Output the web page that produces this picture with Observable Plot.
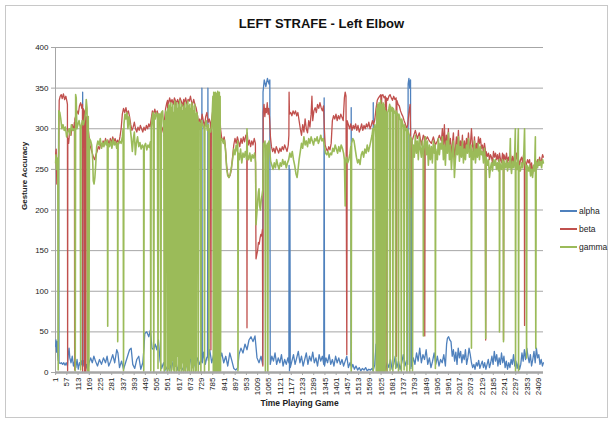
<!DOCTYPE html>
<html><head><meta charset="utf-8">
<script src="https://cdn.jsdelivr.net/npm/d3@7"></script>
<script src="https://cdn.jsdelivr.net/npm/@observablehq/plot@0.6"></script>
<style>
body{margin:0;background:#fff;font-family:"Liberation Sans",Arial,sans-serif;}
#wrap{position:relative;width:613px;height:423px;overflow:hidden;}
#frame{position:absolute;left:5px;top:5px;width:601px;height:411px;border:1px solid #c8c8c8;}
#title{position:absolute;left:0;width:613px;top:16px;text-align:center;padding-left:30px;box-sizing:border-box;font-weight:bold;font-size:13px;color:#111;}
#chart{position:absolute;left:0;top:0;}
.leg{position:absolute;left:560px;font-size:8.5px;color:#222;display:flex;align-items:center;}
.leg span.l{display:inline-block;width:17px;height:1.5px;margin-right:2px;}
</style></head>
<body>
<div id="wrap">
<div id="frame"></div>
<div id="chart"></div>
<div id="title">LEFT STRAFE - Left Elbow</div>
<div id="legend"></div>
</div>
<script>
const seriesNames = ["alpha", "beta", "gamma"];
const seriesColors = ["#4F81BD", "#C0504D", "#9BBB59"];
const yTicks = [0, 50, 100, 150, 200, 250, 300, 350, 400];
const xTickLabels = [1,57,113,169,225,281,337,393,449,505,561,617,673,729,785,841,897,953,1009,1065,1121,1177,1233,1289,1345,1401,1457,1513,1569,1625,1681,1737,1793,1849,1905,1961,2017,2073,2129,2185,2241,2297,2353,2409];
const pointCount = 2435;

const alpha = [[1,32],[3,40],[6,25],[9,38],[12,20],[14,15],[16,300],[18,12],[24,11],[30,12],[36,10],[42,12],[48,9],[54,12],[60,8],[64,22],[68,30],[72,18],[78,12],[84,20],[90,8],[96,14],[102,6],[108,16],[114,4],[120,12],[126,8],[132,15],[134,10],[136,345],[138,8],[144,15],[150,4],[156,10],[162,2],[168,12],[176,18],[184,12],[192,20],[200,14],[210,8],[220,16],[230,10],[240,18],[250,12],[258,20],[266,8],[276,14],[286,22],[296,12],[306,28],[312,24],[320,6],[330,14],[340,4],[350,12],[360,20],[370,28],[378,30],[386,10],[396,5],[406,16],[416,20],[426,4],[436,12],[442,30],[446,48],[456,50],[466,44],[474,52],[482,30],[490,28],[498,35],[506,28],[514,40],[522,15],[530,5],[540,12],[550,3],[560,8],[570,2],[580,15],[590,4],[600,10],[610,3],[620,18],[630,6],[640,2],[650,12],[660,4],[670,20],[680,8],[690,14],[700,5],[710,18],[720,10],[729,15],[731,350],[733,12],[740,25],[748,10],[755,18],[759,20],[761,350],[763,15],[770,28],[780,12],[790,22],[800,8],[810,30],[820,16],[830,24],[840,12],[850,20],[860,8],[870,24],[880,15],[890,5],[900,3],[910,6],[916,22],[926,30],[936,24],[946,35],[956,28],[966,40],[976,44],[986,38],[996,45],[1006,18],[1016,12],[1026,20],[1034,10],[1036,345],[1042,360],[1050,352],[1058,362],[1066,355],[1070,360],[1072,10],[1080,20],[1088,14],[1096,24],[1104,10],[1112,18],[1120,12],[1128,22],[1136,8],[1144,16],[1152,10],[1160,18],[1165,12],[1166,255],[1168,2],[1170,250],[1172,6],[1180,14],[1188,22],[1196,10],[1204,18],[1212,26],[1220,12],[1228,20],[1236,8],[1244,16],[1252,24],[1260,10],[1268,20],[1276,14],[1284,25],[1292,12],[1300,18],[1308,8],[1316,22],[1324,14],[1332,20],[1339,10],[1341,338],[1343,8],[1350,18],[1358,12],[1366,22],[1374,10],[1382,16],[1390,8],[1398,20],[1406,12],[1414,18],[1422,10],[1430,16],[1438,8],[1446,14],[1454,20],[1462,6],[1470,12],[1475,8],[1476,326],[1477,5],[1484,10],[1492,4],[1500,8],[1508,3],[1516,6],[1524,2],[1532,5],[1540,3],[1548,6],[1556,2],[1564,4],[1572,3],[1580,5],[1585,2],[1586,332],[1587,4],[1594,10],[1600,35],[1606,8],[1612,40],[1618,12],[1624,32],[1630,6],[1636,28],[1642,10],[1648,4],[1656,12],[1664,6],[1672,16],[1680,4],[1688,10],[1696,20],[1704,6],[1712,14],[1720,4],[1728,12],[1736,22],[1744,8],[1752,15],[1758,10],[1760,355],[1764,362],[1768,350],[1772,360],[1774,5],[1776,252],[1778,8],[1786,18],[1794,10],[1802,24],[1810,14],[1818,30],[1826,12],[1834,22],[1842,16],[1850,28],[1858,10],[1866,18],[1874,6],[1882,14],[1890,24],[1898,10],[1906,20],[1914,8],[1922,16],[1930,12],[1938,22],[1946,8],[1952,35],[1956,42],[1962,44],[1968,40],[1974,38],[1980,20],[1986,28],[1992,14],[1998,25],[2004,10],[2010,30],[2016,18],[2022,26],[2028,12],[2034,22],[2040,16],[2046,28],[2052,10],[2058,18],[2064,30],[2070,22],[2076,12],[2082,6],[2088,10],[2094,4],[2100,12],[2106,8],[2112,15],[2118,5],[2124,10],[2130,14],[2136,6],[2142,12],[2148,4],[2154,10],[2160,16],[2166,6],[2172,12],[2178,20],[2184,10],[2190,26],[2196,14],[2202,22],[2208,8],[2214,18],[2220,10],[2226,24],[2232,12],[2238,20],[2244,6],[2250,14],[2256,4],[2262,12],[2268,6],[2274,16],[2280,10],[2286,22],[2292,8],[2298,14],[2304,5],[2310,12],[2316,4],[2322,10],[2328,24],[2334,14],[2340,28],[2346,16],[2352,30],[2358,20],[2364,12],[2370,22],[2376,8],[2382,16],[2388,26],[2394,12],[2400,30],[2406,18],[2412,22],[2418,10],[2424,16],[2430,8],[2435,12]];

const beta = [[1,268],[4,275],[7,232],[10,262],[13,255],[16,270],[19,335],[24,340],[29,342],[34,337],[40,343],[46,336],[52,340],[58,333],[60,330],[61,2],[62,288],[66,282],[72,300],[78,292],[84,305],[90,298],[95,308],[96,3],[97,312],[102,316],[108,322],[114,318],[120,328],[126,332],[132,325],[135,330],[136,0],[138,325],[144,322],[146,0],[148,318],[151,322],[152,0],[154,315],[160,308],[166,295],[172,280],[178,275],[184,270],[190,265],[196,262],[202,268],[208,272],[214,278],[220,275],[226,282],[232,278],[238,285],[244,280],[250,288],[256,282],[262,286],[268,280],[274,288],[280,282],[286,290],[292,284],[298,288],[304,282],[310,286],[316,282],[322,290],[328,300],[334,318],[340,325],[346,320],[352,326],[358,318],[364,322],[370,315],[376,305],[382,298],[388,302],[394,308],[400,300],[406,296],[412,302],[418,298],[424,304],[430,300],[436,296],[442,302],[448,298],[454,304],[460,300],[466,306],[472,302],[478,312],[484,322],[490,318],[496,324],[502,318],[508,322],[514,316],[520,305],[526,298],[532,302],[538,296],[544,310],[550,325],[556,332],[560,335],[562,5],[564,330],[570,338],[576,332],[582,336],[588,330],[594,338],[600,334],[602,8],[604,332],[610,336],[616,330],[622,338],[628,334],[634,328],[640,336],[642,3],[644,332],[650,338],[656,330],[662,336],[668,334],[674,340],[680,332],[682,10],[684,330],[690,336],[696,330],[702,326],[708,318],[714,308],[720,312],[726,305],[732,318],[738,310],[744,302],[750,315],[756,320],[762,308],[768,312],[774,305],[776,28],[778,308],[784,320],[790,335],[796,340],[802,338],[808,342],[810,50],[812,340],[818,336],[824,300],[830,288],[836,284],[842,290],[848,278],[854,255],[860,244],[866,240],[872,243],[878,250],[884,265],[890,280],[896,288],[902,282],[908,290],[914,284],[920,278],[926,288],[932,282],[938,290],[944,284],[950,292],[955,288],[956,55],[957,295],[962,280],[968,286],[974,278],[980,285],[986,280],[992,288],[998,282],[1001,140],[1005,145],[1009,150],[1013,160],[1017,158],[1021,165],[1025,170],[1029,168],[1033,176],[1035,8],[1037,320],[1041,330],[1045,315],[1049,325],[1053,320],[1057,332],[1061,318],[1065,325],[1069,312],[1073,290],[1078,278],[1084,272],[1090,276],[1096,270],[1102,278],[1108,274],[1114,270],[1120,276],[1126,272],[1132,278],[1138,274],[1144,280],[1150,276],[1156,272],[1162,280],[1165,292],[1166,345],[1168,318],[1174,320],[1180,316],[1186,322],[1192,318],[1198,322],[1204,316],[1210,320],[1216,310],[1222,300],[1228,292],[1234,305],[1240,296],[1246,312],[1252,300],[1258,295],[1264,310],[1270,302],[1276,318],[1280,340],[1284,310],[1290,322],[1296,326],[1302,320],[1308,330],[1314,325],[1320,332],[1326,326],[1332,322],[1338,328],[1342,300],[1346,280],[1352,275],[1358,272],[1364,278],[1370,274],[1376,282],[1382,310],[1388,316],[1394,312],[1400,318],[1406,310],[1412,316],[1418,312],[1424,318],[1430,314],[1436,310],[1442,338],[1446,345],[1450,340],[1454,22],[1456,310],[1462,305],[1468,300],[1474,306],[1480,298],[1486,304],[1492,300],[1498,306],[1504,298],[1510,304],[1516,296],[1522,300],[1528,306],[1534,298],[1540,304],[1546,300],[1552,306],[1558,302],[1564,308],[1570,300],[1576,304],[1582,310],[1588,305],[1594,312],[1600,325],[1606,335],[1612,338],[1618,340],[1624,342],[1626,5],[1628,340],[1634,342],[1640,338],[1646,340],[1650,0],[1652,338],[1658,335],[1664,340],[1670,342],[1676,338],[1682,335],[1688,340],[1694,336],[1700,338],[1702,20],[1704,335],[1710,330],[1716,328],[1722,322],[1728,318],[1734,315],[1740,310],[1746,306],[1752,300],[1758,305],[1764,320],[1770,330],[1772,300],[1774,215],[1776,230],[1780,285],[1786,290],[1796,298],[1806,288],[1816,295],[1826,280],[1836,292],[1841,290],[1843,45],[1845,285],[1856,290],[1866,285],[1876,282],[1886,290],[1896,280],[1906,285],[1916,292],[1926,285],[1931,300],[1936,278],[1941,305],[1946,270],[1951,292],[1956,280],[1961,300],[1966,272],[1971,288],[1976,265],[1981,282],[1986,295],[1991,262],[1996,275],[2001,290],[2006,278],[2011,298],[2016,270],[2021,285],[2026,275],[2031,292],[2036,268],[2041,285],[2046,272],[2051,288],[2056,278],[2061,295],[2066,275],[2071,282],[2076,300],[2081,280],[2086,272],[2091,290],[2096,268],[2101,282],[2106,275],[2111,290],[2116,282],[2121,288],[2126,276],[2131,280],[2136,270],[2141,282],[2145,275],[2147,40],[2149,272],[2156,266],[2161,270],[2166,262],[2171,268],[2176,265],[2181,258],[2186,272],[2191,265],[2196,270],[2201,262],[2206,268],[2211,260],[2216,270],[2221,262],[2226,258],[2231,270],[2235,262],[2236,40],[2238,268],[2246,262],[2251,270],[2256,258],[2261,265],[2266,260],[2271,268],[2276,255],[2281,266],[2286,258],[2291,268],[2296,262],[2301,270],[2306,258],[2311,262],[2316,255],[2321,262],[2326,265],[2331,258],[2336,268],[2340,262],[2341,58],[2343,260],[2349,255],[2356,262],[2361,258],[2366,262],[2371,250],[2376,258],[2381,245],[2386,255],[2391,250],[2396,248],[2401,258],[2406,262],[2411,255],[2416,265],[2421,258],[2426,262],[2431,268],[2435,265]];

const gamma = [[1,258],[3,268],[6,250],[9,264],[12,255],[14,3],[17,322],[22,320],[27,312],[32,300],[38,305],[44,298],[50,302],[56,290],[62,296],[68,300],[74,292],[80,305],[86,298],[92,300],[97,296],[99,2],[101,342],[104,338],[107,300],[112,305],[118,310],[124,302],[126,3],[128,300],[134,310],[140,305],[146,312],[151,320],[154,336],[158,325],[161,2],[164,315],[167,1],[170,288],[176,285],[181,280],[186,262],[189,236],[193,232],[197,240],[201,255],[206,278],[212,285],[218,280],[224,288],[230,276],[236,283],[242,278],[248,285],[254,280],[259,286],[261,57],[263,282],[270,278],[276,285],[282,276],[288,287],[294,280],[300,284],[306,276],[310,282],[311,38],[313,280],[320,285],[328,282],[334,290],[338,300],[340,2],[342,305],[347,318],[352,312],[357,320],[362,300],[367,315],[372,305],[378,290],[384,272],[389,288],[394,296],[399,268],[404,282],[410,290],[416,278],[422,283],[428,275],[434,280],[440,276],[441,2],[443,278],[450,282],[456,274],[462,280],[468,277],[474,284],[476,2],[478,300],[483,315],[488,320],[491,0],[493,318],[498,312],[504,320],[509,315],[512,5],[515,318],[523,318],[526,2],[529,320],[535,322],[541,300],[543,0],[546,310],[548,4],[551,322],[556,318],[558,0],[561,325],[563,6],[566,330],[568,2],[571,328],[573,10],[576,332],[578,0],[581,326],[583,15],[586,330],[588,3],[591,320],[593,0],[596,334],[598,8],[601,328],[603,0],[606,332],[608,20],[611,325],[613,2],[616,330],[618,0],[621,335],[623,5],[626,326],[628,0],[631,330],[633,12],[636,322],[638,0],[641,328],[643,4],[646,332],[648,0],[651,325],[653,8],[656,330],[658,0],[661,334],[663,3],[666,328],[668,0],[671,330],[673,18],[676,325],[678,0],[681,332],[683,6],[686,328],[688,0],[691,322],[693,10],[696,330],[698,0],[701,318],[703,2],[706,320],[711,312],[713,0],[716,308],[724,305],[726,0],[728,310],[735,305],[742,300],[744,0],[746,302],[752,310],[758,298],[764,305],[766,2],[768,300],[775,296],[780,305],[786,340],[788,0],[790,345],[792,3],[794,342],[796,0],[798,345],[800,5],[802,340],[804,0],[806,344],[808,2],[810,346],[812,0],[814,342],[816,4],[818,345],[820,0],[822,340],[824,2],[826,285],[832,288],[838,282],[844,286],[850,270],[855,250],[860,242],[866,240],[872,244],[878,252],[884,262],[890,275],[896,268],[902,280],[908,272],[910,285],[911,2],[913,270],[918,262],[924,275],[930,258],[936,270],[942,265],[948,272],[954,262],[956,300],[958,268],[964,262],[970,270],[976,260],[982,268],[988,264],[994,270],[999,258],[1001,182],[1005,195],[1009,210],[1013,222],[1016,226],[1019,205],[1023,200],[1027,212],[1031,218],[1035,225],[1038,282],[1042,278],[1046,285],[1048,0],[1050,280],[1054,275],[1058,282],[1060,0],[1062,278],[1066,285],[1070,272],[1074,260],[1080,255],[1086,250],[1092,258],[1098,252],[1104,262],[1110,255],[1116,250],[1122,258],[1128,254],[1134,262],[1140,256],[1146,260],[1152,252],[1158,258],[1164,262],[1170,270],[1176,265],[1182,272],[1188,262],[1194,255],[1200,245],[1206,240],[1210,248],[1216,262],[1222,272],[1228,282],[1234,276],[1240,290],[1246,280],[1252,285],[1258,278],[1264,288],[1270,282],[1276,290],[1282,285],[1288,280],[1294,288],[1300,285],[1306,290],[1312,282],[1318,286],[1324,292],[1330,285],[1336,288],[1342,280],[1348,270],[1354,268],[1360,272],[1366,265],[1372,270],[1378,268],[1384,276],[1390,272],[1396,280],[1402,275],[1408,270],[1414,278],[1420,272],[1426,280],[1432,276],[1438,270],[1442,262],[1446,205],[1448,258],[1452,265],[1458,258],[1464,262],[1470,270],[1474,278],[1476,0],[1478,282],[1484,288],[1490,285],[1496,275],[1502,265],[1508,258],[1514,262],[1520,256],[1526,268],[1532,272],[1538,265],[1544,275],[1550,270],[1556,280],[1562,272],[1568,278],[1574,285],[1580,292],[1584,300],[1586,0],[1588,298],[1594,305],[1599,290],[1601,2],[1603,325],[1605,0],[1607,330],[1609,5],[1611,328],[1613,0],[1615,332],[1617,8],[1619,330],[1621,0],[1623,335],[1625,3],[1627,330],[1629,0],[1631,328],[1633,10],[1635,332],[1637,0],[1639,330],[1641,2],[1643,326],[1645,0],[1648,322],[1654,318],[1656,0],[1658,320],[1664,325],[1668,330],[1670,2],[1672,328],[1678,322],[1682,326],[1684,0],[1686,325],[1692,320],[1696,318],[1698,5],[1700,322],[1706,318],[1710,315],[1712,0],[1714,318],[1720,312],[1724,310],[1726,0],[1728,312],[1734,305],[1738,300],[1740,3],[1742,305],[1748,298],[1752,300],[1754,0],[1756,300],[1762,295],[1766,292],[1768,0],[1770,290],[1776,288],[1780,285],[1782,2],[1784,280],[1786,280],[1791,265],[1796,292],[1801,270],[1806,285],[1811,262],[1816,290],[1821,275],[1826,265],[1831,285],[1835,270],[1836,45],[1838,272],[1846,290],[1851,268],[1856,285],[1861,255],[1866,280],[1871,262],[1876,278],[1881,258],[1886,285],[1891,270],[1895,280],[1896,5],[1898,275],[1906,262],[1911,288],[1916,268],[1921,282],[1926,275],[1931,290],[1936,262],[1941,280],[1946,255],[1951,285],[1956,270],[1961,295],[1966,262],[1971,280],[1976,250],[1981,270],[1986,285],[1991,240],[1996,262],[2001,280],[2006,268],[2011,290],[2016,260],[2021,278],[2026,265],[2031,285],[2036,258],[2041,275],[2046,262],[2051,280],[2056,270],[2061,288],[2066,265],[2071,272],[2074,280],[2076,30],[2078,275],[2086,262],[2091,285],[2096,258],[2101,275],[2106,265],[2111,282],[2116,262],[2121,278],[2126,268],[2131,272],[2136,258],[2141,276],[2145,262],[2147,42],[2149,265],[2156,255],[2161,262],[2166,240],[2171,252],[2176,258],[2181,248],[2186,262],[2191,255],[2196,262],[2201,250],[2206,258],[2211,248],[2215,262],[2216,50],[2218,258],[2226,250],[2231,262],[2235,255],[2236,38],[2238,260],[2246,252],[2251,262],[2256,248],[2261,258],[2266,252],[2270,288],[2272,255],[2276,245],[2281,260],[2286,252],[2291,262],[2295,300],[2296,0],[2298,258],[2304,250],[2310,300],[2311,0],[2313,255],[2320,248],[2326,258],[2331,252],[2336,260],[2341,300],[2343,258],[2349,250],[2351,18],[2353,255],[2361,248],[2366,255],[2371,242],[2376,250],[2381,240],[2386,255],[2391,248],[2395,290],[2397,30],[2399,260],[2406,252],[2411,262],[2416,255],[2421,260],[2426,252],[2431,262],[2435,258]];

const seriesData = [alpha, beta, gamma];
const xDomain = [0.5, pointCount + 0.5];

const lineMarks = seriesData.map((pts, i) =>
  Plot.line(pts, {x: d => d[0], y: d => d[1], stroke: seriesColors[i], strokeWidth: i === 2 ? 1.6 : 1.3, strokeLinejoin: "round"})
);

const chart = Plot.plot({
  width: 613,
  height: 423,
  marginLeft: 55,
  marginRight: 70,
  marginTop: 47,
  marginBottom: 51,
  style: {fontFamily: "'Liberation Sans', Arial, sans-serif", background: "transparent", overflow: "visible"},
  x: {domain: xDomain},
  y: {domain: [0, 400]},
  marks: [
    Plot.gridY(yTicks, {stroke: "#a6a6a6", strokeOpacity: 1, strokeWidth: 1}),
    Plot.ruleX([xDomain[0]], {stroke: "#a6a6a6", strokeWidth: 1}),
    Plot.axisY({ticks: yTicks, tickSize: 4, tickPadding: 3, fontSize: 8, stroke: "#a6a6a6", fill: "#222", label: null}),
    Plot.axisX({ticks: xTickLabels, tickFormat: d => String(d), tickRotate: -90, tickSize: 3, tickPadding: 2, fontSize: 8, stroke: "#a6a6a6", fill: "#222", label: null}),
    ...lineMarks,
    Plot.ruleY([0], {stroke: "#a6a6a6", strokeWidth: 2.5}),
    Plot.text(["Gesture Accuracy"], {text: d => d, frameAnchor: "left", dx: -31, rotate: -90, fontWeight: "bold", fontSize: 8, fill: "#222"}),
    Plot.text(["Time Playing Game"], {text: d => d, frameAnchor: "bottom", dy: 33, fontWeight: "bold", fontSize: 8.5, fill: "#222"})
  ]
});
document.getElementById("chart").appendChild(chart);

const legend = document.getElementById("legend");
seriesNames.forEach((name, i) => {
  const row = document.createElement("div");
  row.className = "leg";
  row.style.top = (206 + i * 18) + "px";
  const sw = document.createElement("span");
  sw.className = "l";
  sw.style.background = seriesColors[i];
  row.appendChild(sw);
  row.appendChild(document.createTextNode(name));
  legend.appendChild(row);
});
</script>
</body></html>
